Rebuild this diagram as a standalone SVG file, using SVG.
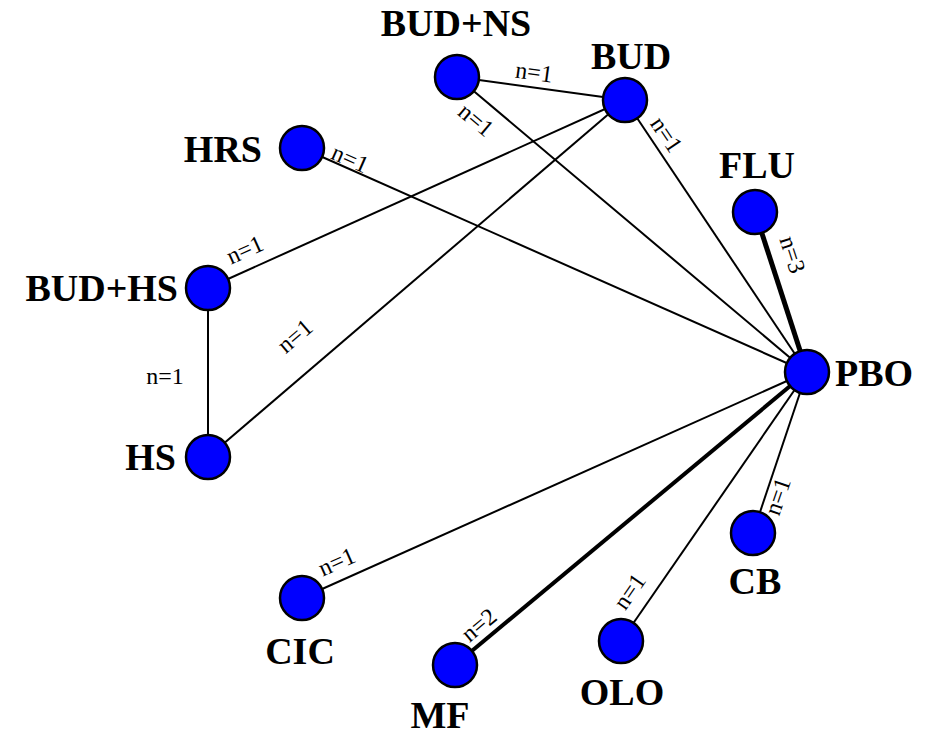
<svg xmlns="http://www.w3.org/2000/svg" width="927" height="737" viewBox="0 0 927 737">
<style>
.e{stroke:#000;stroke-width:2;fill:none}
.n{fill:#0000ff;stroke:#000;stroke-width:2.5}
.t{font-family:"Liberation Serif",serif;font-weight:bold;font-size:38px;fill:#000}
.l{font-family:"Liberation Serif",serif;font-size:24px;fill:#000;text-anchor:middle}
</style>
<rect width="927" height="737" fill="#fff"/>
<g id="connectors">
<line class="e" x1="457" y1="77" x2="625" y2="100"/>
<line class="e" x1="457" y1="77" x2="807" y2="372"/>
<line class="e" x1="625" y1="100" x2="807" y2="372"/>
<line class="e" x1="302" y1="148" x2="807" y2="372"/>
<line class="e" x1="208" y1="288" x2="625" y2="100"/>
<line class="e" x1="208" y1="457" x2="625" y2="100"/>
<line class="e" x1="208" y1="288" x2="208" y2="457"/>
<line class="e" x1="755" y1="212" x2="807" y2="372" style="stroke-width:5"/>
<line class="e" x1="753" y1="533" x2="807" y2="372"/>
<line class="e" x1="302" y1="598" x2="807" y2="372"/>
<line class="e" x1="455" y1="665" x2="807" y2="372" style="stroke-width:4"/>
<line class="e" x1="621" y1="641" x2="807" y2="372"/>
<text class="l" transform="translate(533,80) rotate(7.8)">n=1</text>
<text class="l" transform="translate(471,126) rotate(40)">n=1</text>
<text class="l" transform="translate(660,139) rotate(56)">n=1</text>
<text class="l" transform="translate(347,166) rotate(24)">n=1</text>
<text class="l" transform="translate(248,257) rotate(-24.3)">n=1</text>
<text class="l" transform="translate(300,342) rotate(-40.6)">n=1</text>
<text class="l" x="165" y="384">n=1</text>
<text class="l" transform="translate(785,257) rotate(72)">n=3</text>
<text class="l" transform="translate(785,499) rotate(-71)">n=1</text>
<text class="l" transform="translate(340,569) rotate(-24)">n=1</text>
<text class="l" transform="translate(484,631) rotate(-40)">n=2</text>
<text class="l" transform="translate(636,596) rotate(-55)">n=1</text>
</g>
<g id="BUDNS"><circle class="n" cx="457" cy="77" r="22"/><text class="t" x="456" y="36" text-anchor="middle">BUD+NS</text></g>
<g id="BUD"><circle class="n" cx="625" cy="100" r="22"/><text class="t" x="631" y="69" text-anchor="middle">BUD</text></g>
<g id="HRS"><circle class="n" cx="302" cy="148" r="22"/><text class="t" x="262" y="162" text-anchor="end">HRS</text></g>
<g id="FLU"><circle class="n" cx="755" cy="212" r="22"/><text class="t" x="757" y="178" text-anchor="middle">FLU</text></g>
<g id="BUDHS"><circle class="n" cx="208" cy="288" r="22"/><text class="t" x="178" y="301" text-anchor="end">BUD+HS</text></g>
<g id="PBO"><circle class="n" cx="807" cy="372" r="22"/><text class="t" x="835" y="386">PBO</text></g>
<g id="HS"><circle class="n" cx="208" cy="457" r="22"/><text class="t" x="176" y="470" text-anchor="end">HS</text></g>
<g id="CB"><circle class="n" cx="753" cy="533" r="22"/><text class="t" x="755" y="594" text-anchor="middle">CB</text></g>
<g id="CIC"><circle class="n" cx="302" cy="598" r="22"/><text class="t" x="300" y="664" text-anchor="middle">CIC</text></g>
<g id="OLO"><circle class="n" cx="621" cy="641" r="22"/><text class="t" x="622" y="705" text-anchor="middle">OLO</text></g>
<g id="MF"><circle class="n" cx="455" cy="665" r="22"/><text class="t" x="440" y="728" text-anchor="middle">MF</text></g>
</svg>
